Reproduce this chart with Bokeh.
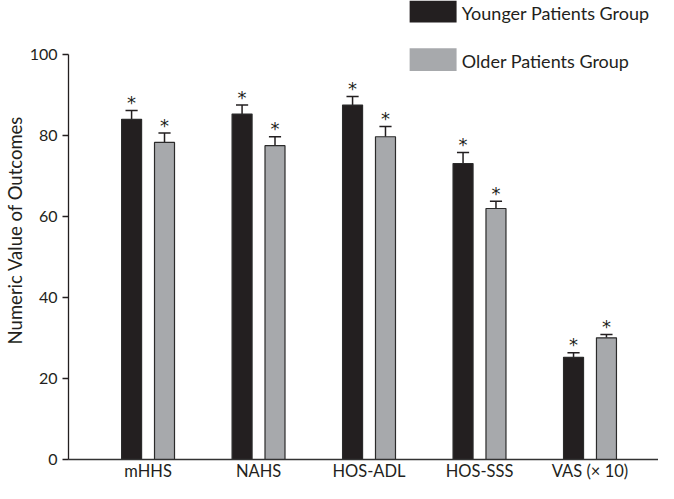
from bokeh.plotting import figure
from bokeh.models import ColumnDataSource, FixedTicker, Range1d
from bokeh.core.properties import value
from bokeh.embed import file_html
from bokeh.resources import INLINE

categories = ["mHHS", "NAHS", "HOS-ADL", "HOS-SSS", "VAS (× 10)"]
younger = [83.9, 85.2, 87.4, 73.0, 25.2]
younger_err = [2.2, 2.2, 2.1, 2.7, 1.1]
older = [78.2, 77.4, 79.6, 61.9, 30.0]
older_err = [2.3, 2.2, 2.5, 1.8, 0.8]
y_ticks = [0, 20, 40, 60, 80, 100]
legend_labels = ["Younger Patients Group", "Older Patients Group"]
y_label = "Numeric Value of Outcomes"

FONT = "Lato"
TXT = "#231f20"
BLACK = "#231f20"
GRAY = "#a7a9ac"

idx = list(range(len(categories)))
off = 0.149
bw = 0.181

def src(vals, errs, shift):
    return ColumnDataSource(dict(
        x=[i + shift for i in idx],
        top=vals,
        etop=[v + e for v, e in zip(vals, errs)],
        xl=[i + shift - 0.055 for i in idx],
        xr=[i + shift + 0.055 for i in idx],
        star=["*"] * len(vals),
    ))

sy = src(younger, younger_err, -off)
so = src(older, older_err, off)

p = figure(width=658, height=483, output_backend="svg", toolbar_location=None,
           x_range=Range1d(-0.72, 4.62), y_range=Range1d(0, 113.2),
           min_border_left=66, min_border_right=0, min_border_top=0, min_border_bottom=20)
p.outline_line_color = None
p.grid.grid_line_color = None
p.background_fill_color = "white"

for s, col in ((sy, BLACK), (so, GRAY)):
    p.segment(x0="x", y0="top", x1="x", y1="etop", source=s, line_color=BLACK, line_width=1.5)
    p.segment(x0="xl", y0="etop", x1="xr", y1="etop", source=s, line_color=BLACK, line_width=1.5)
    p.vbar(x="x", top="top", bottom=0, width=bw, source=s, fill_color=col,
           line_color="#2b2b2b", line_width=1.2)
    p.text(x="x", y="etop", text="star", source=s, text_align="center",
           text_baseline="middle", y_offset=-8, text_font=value("DejaVu Sans"),
           text_font_size="18px", text_color=TXT)

# legend drawn as glyphs
p.rect(x=[2.58, 2.58], y=[110.5, 98.6], width=0.425, height=[5.4, 5.6],
       fill_color=[BLACK, GRAY], line_color=None)
p.text(x=[2.84, 2.84], y=[110.2, 98.4], text=legend_labels, text_align="left",
       text_baseline="middle", text_font=value(FONT), text_font_size="18px",
       text_color=TXT)

xa = p.xaxis[0]
xa.ticker = FixedTicker(ticks=idx)
xa.major_label_overrides = {i: c for i, c in zip(idx, categories)}
xa.major_tick_out = 0
xa.major_tick_in = 0
xa.minor_tick_out = 0
xa.minor_tick_in = 0
xa.axis_line_color = "#333333"
xa.axis_line_width = 1.5
xa.major_label_standoff = 1
xa.major_label_text_font = FONT
xa.major_label_text_font_size = "16.5px"
xa.major_label_text_color = TXT

ya = p.yaxis[0]
ya.ticker = FixedTicker(ticks=y_ticks)
ya.bounds = (0, 100)
ya.major_tick_out = 6
ya.major_tick_in = 0
ya.minor_tick_out = 0
ya.minor_tick_in = 0
ya.axis_line_color = "#231f20"
ya.axis_line_width = 1.3
ya.major_tick_line_width = 1.3
ya.major_tick_line_color = "#231f20"
ya.major_label_standoff = 5
ya.major_label_text_font = FONT
ya.major_label_text_font_size = "16px"
ya.major_label_text_color = TXT
ya.axis_label = y_label
ya.axis_label_text_font = FONT
ya.axis_label_text_font_size = "18.5px"
ya.axis_label_text_font_style = "normal"
ya.axis_label_text_color = TXT
ya.axis_label_standoff = 1

open("out.html", "w").write(file_html(p, INLINE))
